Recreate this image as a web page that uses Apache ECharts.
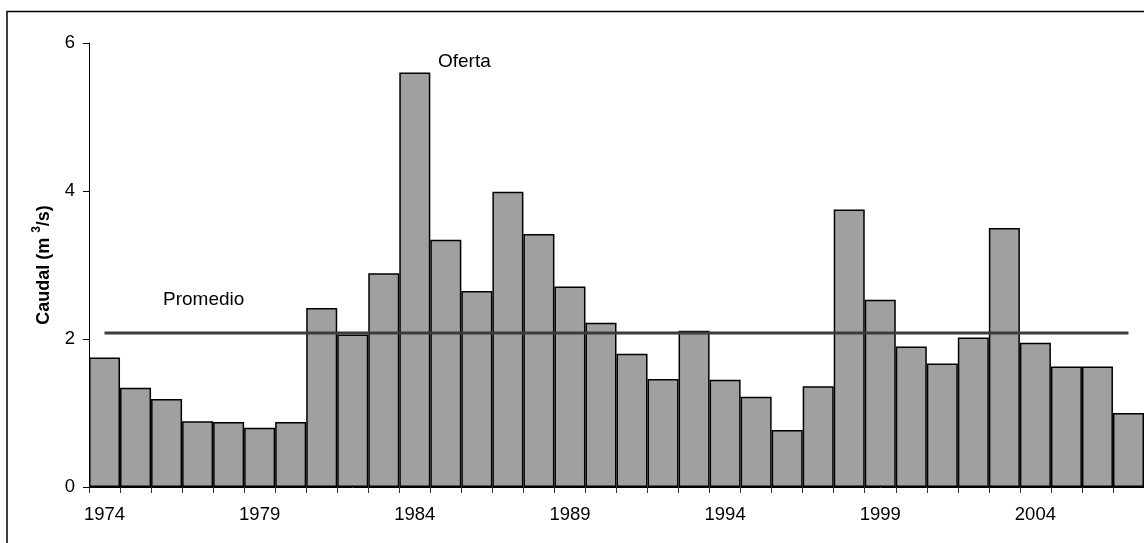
<!DOCTYPE html>
<html>
<head>
<meta charset="utf-8">
<script src="https://cdn.jsdelivr.net/npm/echarts@6/dist/echarts.min.js"></script>
<style>
html,body{margin:0;padding:0;background:#fff;}
#chart{width:1144px;height:543px;}
</style>
</head>
<body>
<div id="chart"></div>
<script>
const years = ['1974','1975','1976','1977','1978','1979','1980','1981','1982','1983','1984','1985','1986','1987','1988','1989','1990','1991','1992','1993','1994','1995','1996','1997','1998','1999','2000','2001','2002','2003','2004','2005','2006','2007'];
const oferta = [1.75,1.34,1.19,0.89,0.88,0.80,0.88,2.42,2.06,2.89,5.60,3.34,2.65,3.99,3.42,2.71,2.22,1.80,1.46,2.11,1.45,1.22,0.77,1.36,3.75,2.53,1.90,1.67,2.02,3.50,1.95,1.63,1.63,1.00];
const promedioValue = 2.08;
const promedio = years.map(() => promedioValue);
const yTicks = [0, 2, 4, 6];

const FONT = 'Liberation Sans, Arial, sans-serif';
const chart = echarts.init(document.getElementById('chart'), null, {renderer: 'canvas'});
chart.setOption({
  backgroundColor: '#fff',
  animation: false,
  grid: {left: 89, top: 43, width: 1055.5, height: 444, containLabel: false},
  xAxis: {
    type: 'category',
    data: years,
    boundaryGap: true,
    axisLine: {show: true, lineStyle: {color: '#000', width: 1}},
    axisTick: {show: true, interval: 0, length: 6, lineStyle: {color: '#333', width: 1}},
    axisLabel: {interval: 4, margin: 18, color: '#000', fontSize: 18.5, fontFamily: FONT},
    splitLine: {show: false}
  },
  yAxis: {
    type: 'value',
    min: yTicks[0],
    max: yTicks[yTicks.length - 1],
    interval: 2,
    axisLine: {show: true, lineStyle: {color: '#000', width: 1}},
    axisTick: {show: true, length: 6, lineStyle: {color: '#000', width: 1}},
    axisLabel: {margin: 14, color: '#000', fontSize: 18.5, fontFamily: FONT},
    splitLine: {show: false},
    name: '{a|Caudal (m }{s|3}{a|/s)}',
    nameLocation: 'middle',
    nameRotate: 90,
    nameGap: 36,
    nameTextStyle: {
      color: '#000', fontSize: 18, fontWeight: 'bold', fontFamily: FONT,
      rich: {
        a: {fontSize: 18, fontWeight: 'bold', fontFamily: FONT, color: '#000', lineHeight: 22, verticalAlign: 'bottom'},
        s: {fontSize: 12, fontWeight: 'bold', fontFamily: FONT, color: '#000', lineHeight: 22, verticalAlign: 'top'}
      }
    }
  },
  series: [
    {
      name: 'Oferta',
      type: 'bar',
      data: oferta,
      barCategoryGap: '0%',
      itemStyle: {color: '#a0a0a0', borderColor: '#000', borderWidth: 1.5},
      z: 2
    },
    {
      name: 'Promedio',
      type: 'line',
      data: promedio,
      symbol: 'none',
      lineStyle: {color: '#3c3c3c', width: 3},
      z: 3
    }
  ],
  graphic: [
    {type: 'rect', shape: {x: 7, y: 11.5, width: 1300, height: 700}, style: {fill: 'none', stroke: '#000', lineWidth: 1.5}, z: 10, silent: true},
    {type: 'text', x: 438, y: 52, style: {text: 'Oferta', fontSize: 19, fontFamily: FONT, fill: '#000'}},
    {type: 'text', x: 163, y: 290, style: {text: 'Promedio', fontSize: 19, fontFamily: FONT, fill: '#000'}}
  ]
});
</script>
</body>
</html>
